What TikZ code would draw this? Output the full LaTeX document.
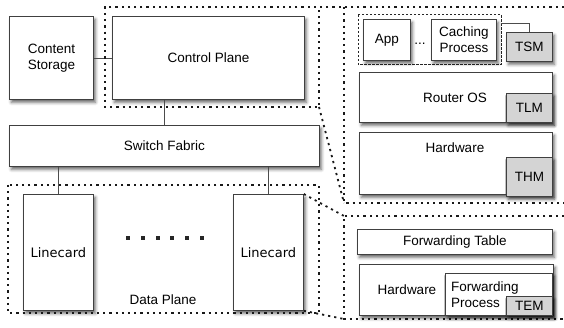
\documentclass[tikz,border=0pt]{standalone}
\usepackage{fontspec}
\setmainfont{Liberation Sans}
\newfontfamily\cardfont{DejaVu Sans}
\usetikzlibrary{shadows.blur}

\begin{document}
\begin{tikzpicture}[x=1pt,y=-1pt,
  font=\fontsize{13.5}{16}\selectfont,
  box/.style={draw=black!75, line width=0.8pt, fill=white, inner sep=0pt,
    anchor=north west, align=center,
    blur shadow={shadow xshift=2pt, shadow yshift=-3pt,
      shadow blur radius=3pt, shadow opacity=60}},
  tag/.style={box, fill=black!17},
  region/.style={draw=black!90, line width=1.8pt, dash pattern=on 2.2pt off 4pt},
  group/.style={draw=black!85, line width=1pt, dash pattern=on 2.5pt off 1.5pt},
  wire/.style={draw=black!70, line width=0.6pt},
  txt/.style={inner sep=0pt, align=center},
  dot/.style={fill=black!85, minimum size=4pt, inner sep=0pt}
]
\useasboundingbox (0,0) rectangle (564,328);

% ---------------- router overview ----------------
\node[box, minimum width=84pt, minimum height=83pt] (cs) at (9,16) {Content\\Storage};
\node[box, minimum width=192pt, minimum height=83pt] (cp) at (112,16) {Control Plane};
\node[box, minimum width=310pt, minimum height=41pt] (sf) at (9,125) {Switch Fabric};
\node[box, minimum width=70pt, minimum height=116pt, font=\cardfont\fontsize{13}{15}\selectfont] (lc1) at (23,194) {Linecard};
\node[box, minimum width=70pt, minimum height=116pt, font=\cardfont\fontsize{13}{15}\selectfont] (lc2) at (233,194) {Linecard};
\foreach \i in {0,...,5}
  \node[dot] (d\i) at (128+14.8*\i,238) {};
\node[txt] (dp) at (163,300) {Data Plane};

\draw[wire] (cs.east) -- (cp.west);
\draw[wire] (sf.north) -- (sf.north |- cp.south);
\draw[wire] (lc1.north) -- (lc1.north |- sf.south);
\draw[wire] (lc2.north) -- (lc2.north |- sf.south);

% ---------------- control plane detail ----------------
\coordinate (cpA) at (105,7);
\coordinate (cpB) at (319,107);
\coordinate (pA) at (344,7);
\coordinate (pB) at (344,203);
\coordinate (pR) at (564,7);
\coordinate (pS) at (564,203);
\draw[region] (pR) -- (cpA) |- (cpB) -- (cpB |- cpA);
\draw[region] (cpB) -- (pB);
\draw[region] (pA) -- (pB) -- (pS);

\draw[group] (358,15) rectangle (501,65);
\coordinate (grpNE) at (501,15);
\node[box, minimum width=47pt, minimum height=41pt] (app) at (363,19) {App};
\node[txt] (ell) at (420,44) {...};
\node[box, minimum width=65pt, minimum height=41pt] (cache) at (431,19) {Caching\\Process};
\node[tag, minimum width=46pt, minimum height=29pt] (tsm) at (506,32) {TSM};
\draw[wire] (tsm.north) |- ([yshift=-8pt]grpNE);

\node[box, minimum width=193pt, minimum height=50pt] (os) at (359,72) {};
\node[txt] (osl) at (455,98) {Router OS};
\node[tag, minimum width=46pt, minimum height=29pt] (tlm) at (506,93) {TLM};

\node[box, minimum width=193pt, minimum height=62pt] (hw1) at (359,132) {};
\node[txt] (hw1l) at (455,148) {Hardware};
\node[tag, minimum width=46pt, minimum height=39pt] (thm) at (506,157) {THM};

% ---------------- linecard detail ----------------
\coordinate (lA) at (344,216);
\coordinate (lB) at (344,319);
\coordinate (lR) at (564,216);
\coordinate (lS) at (564,319);
\draw[region] (8,185) rectangle (319,313);
\draw[region] (lc2.north east) -- (lA);
\draw[region] (lc2.south east) -- (lB);
\draw[region] (lR) -- (lA) -- (lB) -- (lS);

\node[box, minimum width=195pt, minimum height=25pt] (ft) at (357,229) {Forwarding Table};
\node[box, minimum width=194pt, minimum height=51pt] (hw2) at (359,264) {};
\node[txt] (hw2l) at (407,290) {Hardware};
\node[box, minimum width=107pt, minimum height=42pt] (fp) at (445,273) {};
\node[txt, anchor=west, align=left] (fpl) at (451,295) {Forwarding\\Process};
\node[tag, minimum width=46pt, minimum height=19pt] (tem) at (506,296) {TEM};
\end{tikzpicture}
\end{document}
